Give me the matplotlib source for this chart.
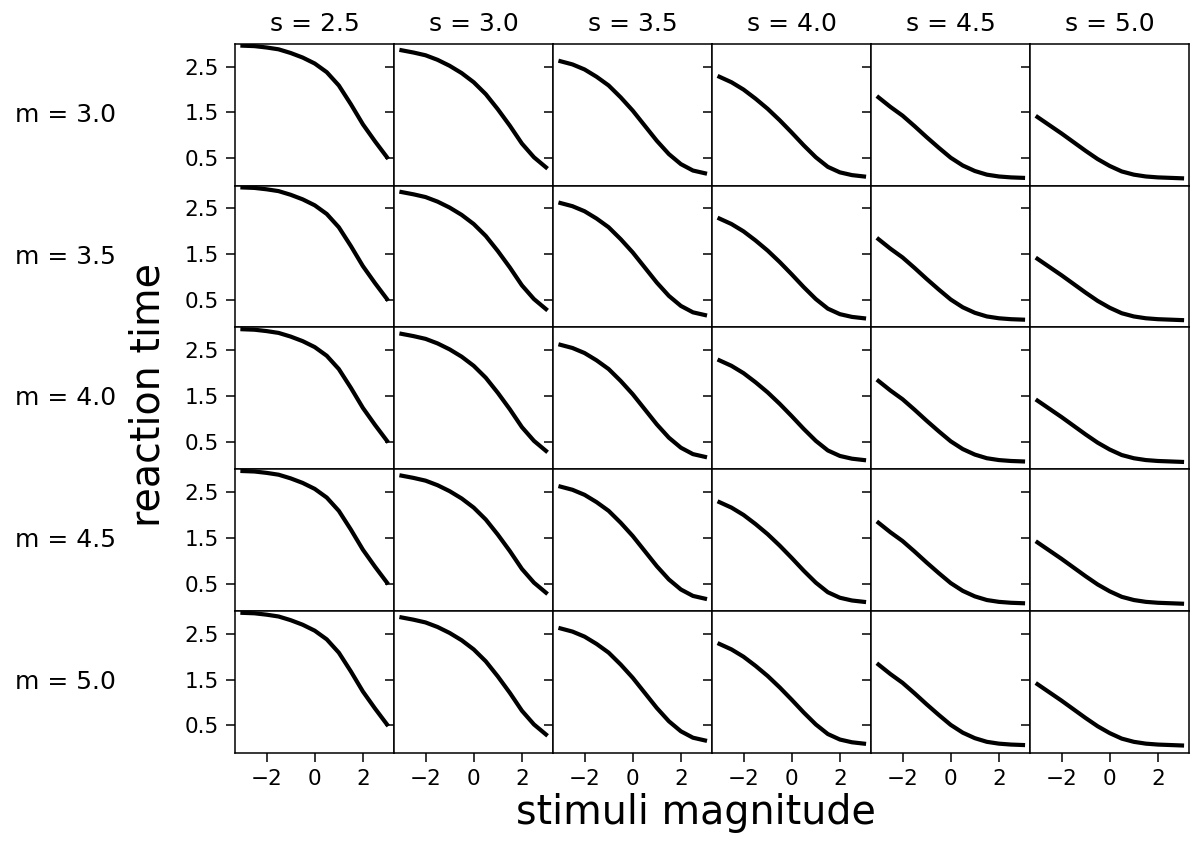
import matplotlib
matplotlib.use('Agg')
import matplotlib.pyplot as plt

# stimulus grid shared by every panel
x = [-3.0, -2.5, -2.0, -1.5, -1.0, -0.5, 0.0, 0.5, 1.0, 1.5, 2.0, 2.5, 3.0]

m_values = ['3.0', '3.5', '4.0', '4.5', '5.0']
s_values = ['2.5', '3.0', '3.5', '4.0', '4.5', '5.0']

# reaction time curves, one per s column (rows look the same for every m)
rt_s25 = [2.96, 2.95, 2.92, 2.88, 2.80, 2.70, 2.57, 2.38, 2.09, 1.68, 1.24, 0.87, 0.52]
rt_s30 = [2.86, 2.81, 2.75, 2.65, 2.52, 2.36, 2.16, 1.90, 1.57, 1.21, 0.82, 0.52, 0.30]
rt_s35 = [2.62, 2.55, 2.44, 2.28, 2.09, 1.83, 1.54, 1.21, 0.88, 0.59, 0.37, 0.23, 0.17]
rt_s40 = [2.28, 2.16, 2.00, 1.80, 1.58, 1.33, 1.06, 0.78, 0.52, 0.31, 0.19, 0.13, 0.10]
rt_s45 = [1.83, 1.62, 1.43, 1.20, 0.96, 0.73, 0.51, 0.34, 0.22, 0.14, 0.10, 0.08, 0.07]
rt_s50 = [1.40, 1.22, 1.04, 0.85, 0.66, 0.48, 0.33, 0.21, 0.14, 0.10, 0.08, 0.07, 0.06]
curves = [rt_s25, rt_s30, rt_s35, rt_s40, rt_s45, rt_s50]

fig, axes = plt.subplots(5, 6, sharex=True, sharey=True, figsize=(11.94, 8.43), dpi=100)
fig.subplots_adjust(left=0.197, right=0.996, top=0.948, bottom=0.107, wspace=0, hspace=0)

for i in range(5):
    for j in range(6):
        ax = axes[i, j]
        ax.plot(x, curves[j], color='black', lw=3.0, solid_joinstyle='round')
        ax.set_xticks([-2, 0, 2])
        ax.set_yticks([0.5, 1.5, 2.5])
        ax.set_ylim(-0.1, 3.0)
        ax.tick_params(length=6.5, width=1.1, labelsize=15.5, pad=5)
        for sp in ax.spines.values():
            sp.set_linewidth(1.1)
        if i == 0:
            ax.set_title('s = ' + s_values[j], fontsize=18, pad=9)
        if j == 0:
            ax.text(-1.07, 0.5, 'm = ' + m_values[i], transform=ax.transAxes,
                    fontsize=18, ha='center', va='center')

fig.text(0.124, 0.532, 'reaction time', rotation=90, fontsize=28.5, ha='center', va='center')
fig.text(0.583, 0.035, 'stimuli magnitude', fontsize=28.5, ha='center', va='center')

fig.savefig('out.png', dpi=100)
